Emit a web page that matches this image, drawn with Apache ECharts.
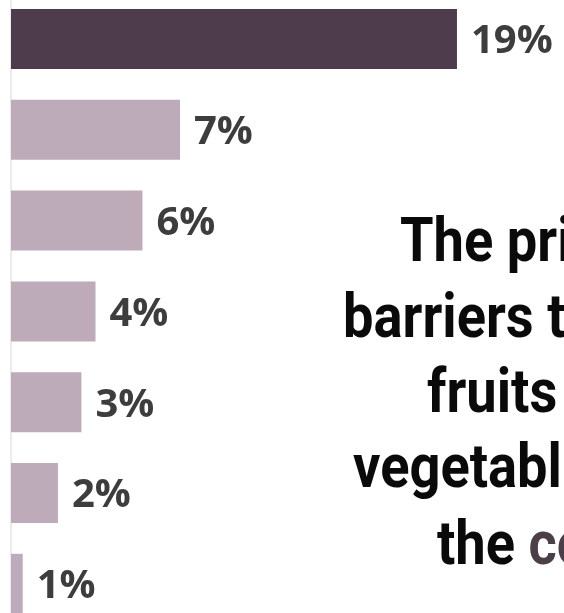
<!DOCTYPE html>
<html>
<head>
<meta charset="utf-8">
<script src="https://cdn.jsdelivr.net/npm/echarts@6/dist/echarts.min.js"></script>
<style>
html,body{margin:0;padding:0;background:#ffffff;}
#chart{width:564px;height:613px;}
</style>
</head>
<body>
<div id="chart"></div>
<script>
// Data
var categories = ['A', 'B', 'C', 'D', 'E', 'F', 'G'];
var values = [19, 7.2, 5.6, 3.6, 3.0, 2.0, 0.5];
var valueLabels = ['19%', '7%', '6%', '4%', '3%', '2%', '1%'];
var barColors = ['#4e3b4c', '#bdabb9', '#bdabb9', '#bdabb9', '#bdabb9', '#bdabb9', '#bdabb9'];
var titleLines = ['The pri', 'barriers t', 'fruits', 'vegetabl'];
var lastLineBlack = 'the ';
var lastLineColored = 'co';

var chart = echarts.init(document.getElementById('chart'), null, {renderer: 'canvas'});

var textBase = {
  fontFamily: 'Roboto',
  fontWeight: 'bold',
  fontSize: 62,
  fill: '#0a0a0a'
};
var linePos = [[400, 245], [343, 321], [427, 396], [353, 471]];
var graphics = titleLines.map(function (t, i) {
  return {
    type: 'text',
    x: linePos[i][0],
    y: linePos[i][1],
    scaleX: 0.875,
    style: Object.assign({}, textBase, {text: t, align: 'left', verticalAlign: 'middle'})
  };
});
graphics.push({
  type: 'text',
  x: 437,
  y: 548,
  scaleX: 0.875,
  style: {
    text: '{a|' + lastLineBlack + '}{b|' + lastLineColored + '}',
    align: 'left',
    verticalAlign: 'middle',
    rich: {
      a: {fontFamily: 'Roboto', fontWeight: 'bold', fontSize: 62, fill: '#0a0a0a', color: '#0a0a0a'},
      b: {fontFamily: 'Roboto', fontWeight: 'bold', fontSize: 62, fill: '#4b4049', color: '#4b4049'}
    }
  }
});

chart.setOption({
  animation: false,
  backgroundColor: '#ffffff',
  grid: {left: 11, width: 553, top: -6.4, height: 635.6, containLabel: false, outerBoundsMode: 'none'},
  xAxis: {
    type: 'value', min: 0, max: 23.56,
    show: false
  },
  yAxis: {
    type: 'category',
    data: categories,
    inverse: true,
    axisLine: {show: true, lineStyle: {color: '#e6e3e5', width: 1.5}},
    axisTick: {show: false},
    axisLabel: {show: false},
    splitLine: {show: false}
  },
  series: [{
    type: 'bar',
    barWidth: 60,
    data: values.map(function (v, i) {
      return {value: v, itemStyle: {color: barColors[i]}};
    }),
    label: {
      show: true,
      position: 'right',
      distance: 14,
      offset: [0, 3],
      formatter: function (p) { return valueLabels[p.dataIndex]; },
      fontFamily: 'Open Sans',
      fontWeight: 'bold',
      fontSize: 40,
      color: '#3d3d3d'
    }
  }],
  graphic: graphics
});
</script>
</body>
</html>
